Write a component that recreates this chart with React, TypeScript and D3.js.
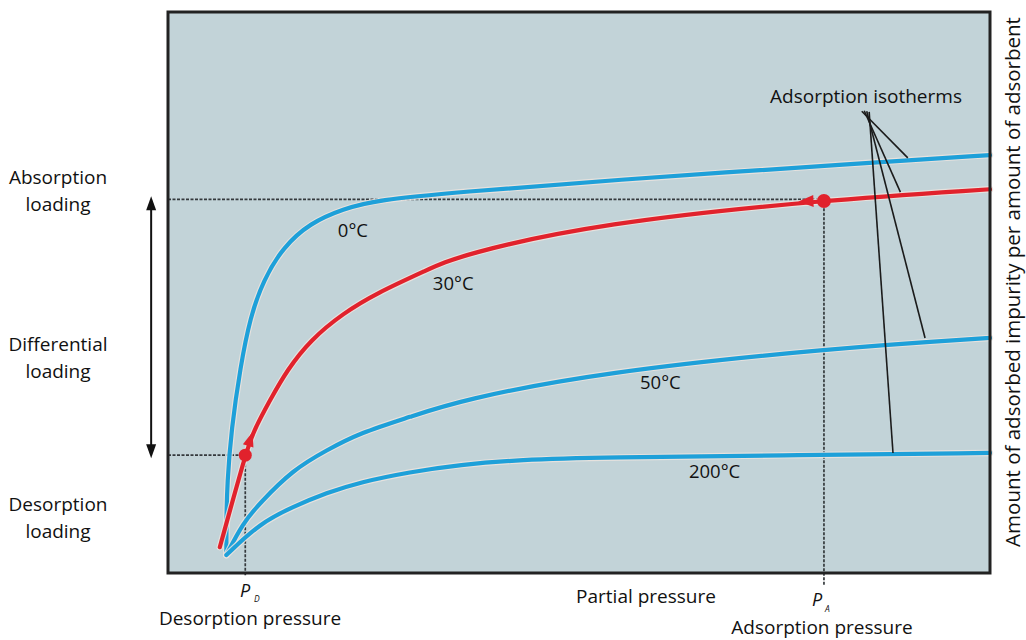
import React from "react";
import * as d3 from "d3";

// ---- data (x: partial pressure 0-100, y: loading 0-100) ----
const iso0X = [7.1, 7.1, 7.2, 7.7, 8.8, 10.0, 11.6, 14.0, 17.3, 21.3, 25.4, 35.5, 52.6, 85.0, 100];
const iso0Y = [3.2, 9.4, 16.0, 25.5, 36.7, 45.6, 52.2, 58.1, 62.4, 64.9, 66.5, 67.9, 69.9, 73.1, 74.5];

const iso30X = [6.3, 9.4, 10.3, 12.4, 14.5, 17.3, 21.3, 25.4, 31.5, 35.5, 52.6, 79.8, 100];
const iso30Y = [4.6, 21.0, 25.0, 30.8, 36.2, 41.5, 46.3, 49.9, 54.0, 56.7, 62.4, 66.5, 68.4];

const iso50X = [7.1, 9.1, 11.2, 15.2, 19.3, 23.4, 29.4, 35.5, 52.6, 80.9, 100];
const iso50Y = [3.2, 8.9, 12.5, 18.4, 21.9, 25.0, 27.8, 30.8, 35.8, 40.1, 41.9];

const iso200X = [7.1, 11.2, 15.2, 19.3, 23.4, 29.4, 35.5, 42.8, 52.6, 76.9, 100];
const iso200Y = [3.2, 8.9, 11.8, 14.3, 16.2, 18.0, 19.3, 20.2, 20.6, 21.0, 21.4];

const tempLabels = ["0°C", "30°C", "50°C", "200°C"];
const tempLabelX = [22.5, 34.7, 59.9, 66.5];
const tempLabelY = [61.1, 51.6, 34.0, 18.0];

const PD = 9.4; // desorption pressure
const PA = 79.8; // adsorption pressure
const desorptionLoading = 21.0;
const absorptionLoading = 66.6;

// annotation "Adsorption isotherms" pointer targets
const pointerApexX = [84.4, 84.7, 85.0, 85.3];
const pointerApexY = [82.3, 82.4, 82.3, 82.2];
const pointerTargetX = [90.0, 89.1, 92.1, 88.2];
const pointerTargetY = [74.0, 67.9, 41.9, 21.4];

const BLUE = "#1ea0d9";
const RED = "#e1222c";

const W = 1026;
const H = 640;
const FONT = "'Open Sans', 'Noto Sans', sans-serif";

export default function App() {
  const x = d3.scaleLinear().domain([0, 100]).range([168, 990]);
  const y = d3.scaleLinear().domain([0, 100]).range([573, 12]);

  const line = d3
    .line<[number, number]>()
    .x((d) => x(d[0]))
    .y((d) => y(d[1]))
    .curve(d3.curveBasis);

  const zip = (xs: number[], ys: number[]) => xs.map((v, i) => [v, ys[i]] as [number, number]);

  const curves = [
    { pts: zip(iso0X, iso0Y), color: BLUE },
    { pts: zip(iso50X, iso50Y), color: BLUE },
    { pts: zip(iso200X, iso200Y), color: BLUE },
    { pts: zip(iso30X, iso30Y), color: RED },
  ];

  // arrowhead helper: tip at data (tx,ty), pointing away from data (bx,by)
  const arrowHead = (tx: number, ty: number, bx: number, by: number, len: number, half: number) => {
    const px = x(tx), py = y(ty);
    const qx = x(bx), qy = y(by);
    const dx = px - qx, dy = py - qy;
    const n = Math.hypot(dx, dy) || 1;
    const ux = dx / n, uy = dy / n;
    const cx = px - ux * len, cy = py - uy * len;
    const nx = -uy, ny = ux;
    return `${px},${py} ${cx + nx * half},${cy + ny * half} ${cx - nx * half},${cy - ny * half}`;
  };

  const arrowX = x(-2.05);
  const topY = y(absorptionLoading);
  const botY = y(desorptionLoading);

  return (
    <div style={{ position: "absolute", left: 0, top: 0 }}>
      <svg width={W} height={H} style={{ display: "block", background: "#fff" }} fontFamily={FONT}>
        {/* plot background */}
        <rect x={x(0)} y={y(100)} width={x(100) - x(0)} height={y(0) - y(100)} fill="#c2d3d8" />

        {/* guide lines */}
        <g stroke="#34393c" strokeWidth={1.7} strokeDasharray="3,1.5" fill="none">
          <line x1={x(0)} x2={x(PA)} y1={y(absorptionLoading)} y2={y(absorptionLoading)} />
          <line x1={x(0)} x2={x(PD)} y1={y(desorptionLoading)} y2={y(desorptionLoading)} />
          <line x1={x(PD)} x2={x(PD)} y1={y(desorptionLoading)} y2={y(0) + 3} />
          <line x1={x(PA)} x2={x(PA)} y1={y(absorptionLoading)} y2={y(0) + 12} />
        </g>

        {/* isotherm curves */}
        {curves.map((c, i) => (
          <g key={i}>
            <path d={line(c.pts) || ""} fill="none" stroke="#ece4df" strokeWidth={6.5} strokeLinejoin="round" strokeLinecap="round" opacity={0.85} />
            <path d={line(c.pts) || ""} fill="none" stroke={c.color} strokeWidth={4.2} strokeLinejoin="round" strokeLinecap="round" />
          </g>
        ))}

        {/* red dots and arrowheads */}
        <circle cx={x(PD)} cy={y(desorptionLoading)} r={6.5} fill={RED} />
        <circle cx={x(PA)} cy={y(66.3)} r={7} fill={RED} />
        <polygon points={arrowHead(10.3, 25.2, 9.7, 22.4, 15, 5.5)} fill={RED} />
        <polygon points={arrowHead(76.7, 66.2, 78.6, 66.3, 15, 6)} fill={RED} />

        {/* pointer lines */}
        <g stroke="#1b1b1b" strokeWidth={1.6}>
          {pointerTargetX.map((tx, i) => (
            <line key={i} x1={x(pointerApexX[i])} y1={y(pointerApexY[i])} x2={x(tx)} y2={y(pointerTargetY[i])} />
          ))}
        </g>
        <text x={866} y={96} dy="0.35em" textAnchor="middle" fontSize={19} fill="#111">
          Adsorption isotherms
        </text>

        {/* temperature labels */}
        {tempLabels.map((t, i) => (
          <text key={t} x={x(tempLabelX[i])} y={y(tempLabelY[i])} dy="0.35em" textAnchor="middle" fontSize={18.5} fill="#111">
            {t}
          </text>
        ))}

        {/* frame */}
        <rect x={x(0)} y={y(100)} width={x(100) - x(0)} height={y(0) - y(100)} fill="none" stroke="#222" strokeWidth={3} />

        {/* double arrow */}
        <line x1={arrowX} x2={arrowX} y1={topY + 10} y2={botY - 10} stroke="#111" strokeWidth={2} />
        <polygon points={`${arrowX},${topY - 3} ${arrowX - 5},${topY + 11} ${arrowX + 5},${topY + 11}`} fill="#111" />
        <polygon points={`${arrowX},${botY + 3} ${arrowX - 5},${botY - 11} ${arrowX + 5},${botY - 11}`} fill="#111" />

        {/* left labels */}
        <g fontSize={19} fill="#111" textAnchor="middle">
          <text x={58} y={177} dy="0.35em">Absorption</text>
          <text x={58} y={204} dy="0.35em">loading</text>
          <text x={58} y={344} dy="0.35em">Differential</text>
          <text x={58} y={371} dy="0.35em">loading</text>
          <text x={58} y={504} dy="0.35em">Desorption</text>
          <text x={58} y={531} dy="0.35em">loading</text>
        </g>

        {/* bottom labels */}
        <g fontSize={19} fill="#111">
          <text x={240} y={597} fontStyle="italic" fontSize={18}>P</text>
          <text x={254} y={602} fontStyle="italic" fontSize={8.5}>D</text>
          <text x={250} y={618} dy="0.35em" textAnchor="middle">Desorption pressure</text>
          <text x={646} y={596} dy="0.35em" textAnchor="middle">Partial pressure</text>
          <text x={812} y={606} fontStyle="italic" fontSize={18}>P</text>
          <text x={825} y={612} fontStyle="italic" fontSize={8.5}>A</text>
          <text x={822} y={627.5} dy="0.35em" textAnchor="middle">Adsorption pressure</text>
        </g>

        {/* right axis label */}
        <text
          transform={`translate(1013,282) rotate(-90)`}
          textAnchor="middle"
          dy="0.35em"
          fontSize={20.5}
          fill="#111"
        >
          Amount of adsorbed impurity per amount of adsorbent
        </text>
      </svg>
    </div>
  );
}
